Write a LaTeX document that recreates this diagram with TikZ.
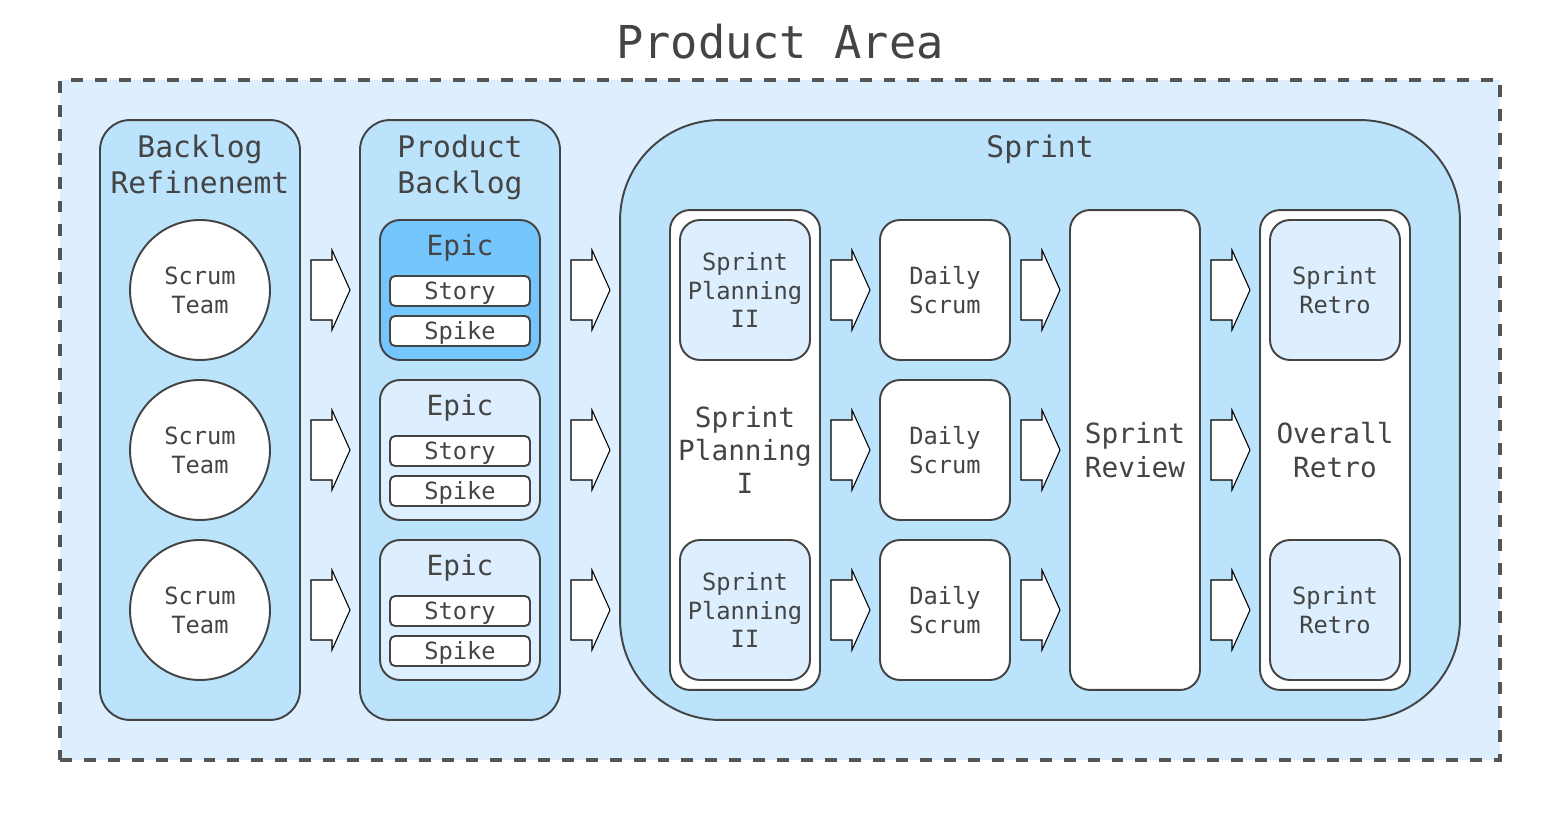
\documentclass[tikz,border=0pt]{standalone}
\usepackage{fontspec}
\setmainfont{DejaVu Sans Mono}
\usetikzlibrary{positioning}
\definecolor{areablue}{HTML}{DDEFFE}
\definecolor{colblue}{HTML}{BBE3FB}
\definecolor{epicblue}{HTML}{75C6FD}
\definecolor{inkgray}{HTML}{444444}
\definecolor{dashgray}{HTML}{555555}
\tikzset{
    flow arrow/.pic={
        \draw[line width=0.6pt, fill=white]
            (-19.5,-30) -- (1.5,-30) -- (1.5,-40) -- (19.5,0)
            -- (1.5,40) -- (1.5,30) -- (-19.5,30) -- cycle;
    }
}
\begin{document}
\begin{tikzpicture}[x=0.02cm, y=-0.02cm,
        every node/.style = {text=inkgray, inner sep=0pt, align=center},
        outline/.style = {draw=inkgray, line width=1.1pt},
        column/.style = {outline, fill=colblue, rounded corners=0.6cm,
            minimum width=4cm, minimum height=12cm},
        card/.style = {outline, rounded corners=0.4cm,
            minimum width=2.6cm, minimum height=2.8cm},
        lane/.style = {outline, fill=white, rounded corners=0.4cm,
            minimum width=3cm, minimum height=9.6cm},
        tag/.style = {outline, fill=white, rounded corners=0.1cm,
            minimum width=2.8cm, minimum height=0.6cm, font=\fontsize{13.5}{16.5}\selectfont},
        member/.style = {outline, circle, fill=white, minimum size=2.8cm,
            font=\fontsize{13.5}{16.5}\selectfont},
        smalltext/.style = {font=\fontsize{13.5}{16.5}\selectfont},
        midtext/.style = {font=\fontsize{15.8}{19}\selectfont},
        headtext/.style = {font=\fontsize{16.9}{20.5}\selectfont}
        ]
    \useasboundingbox (0,0) rectangle (1560,820);

    \node[font=\fontsize{25.8}{31}\selectfont] (title) at (780,42) {Product Area};
    \node[draw=dashgray, fill=areablue, line width=1.9pt,
        dash pattern=on 6.8pt off 6.8pt,
        minimum width=28.8cm, minimum height=13.6cm] (area) at (780,420) {};

    % backlog refinement
    \node[column] (refine) at (200,420) {};
    \node[headtext] (refinetitle) at (200,164) {Backlog\\Refinenemt};
    \node[member] (team1) at (200,290) {Scrum\\Team};
    \node[member] (team2) at (200,450) {Scrum\\Team};
    \node[member] (team3) at (200,610) {Scrum\\Team};

    % product backlog
    \node[column] (backlog) at (460,420) {};
    \node[headtext] (backlogtitle) at (460,167) {Product\\Backlog};
    \foreach \y/\c [count=\i] in {290/epicblue, 450/areablue, 610/areablue} {
        \node[card, fill=\c, minimum width=3.2cm] (epic\i) at (460,\y) {};
        \node[midtext] (epiclabel\i) at (460,\y-42) {Epic};
        \node[tag] (story\i) at (460,\y+1) {};
        \node[smalltext] (storytext\i) at (460,\y+3) {Story};
        \node[tag] (spike\i) at (460,\y+41) {};
        \node[smalltext] (spiketext\i) at (460,\y+43) {Spike};
    }

    % sprint
    \node[outline, fill=colblue, rounded corners=2cm,
        minimum width=16.8cm, minimum height=12cm] (sprint) at (1040,420) {};
    \node[headtext] (sprinttitle) at (1040,149) {Sprint};

    \node[lane] (planning) at (745,450) {};
    \node[card, fill=areablue, smalltext] (planning2a) at (745,290) {Sprint\\Planning\\II};
    \node[card, fill=areablue, smalltext] (planning2b) at (745,610) {Sprint\\Planning\\II};
    \node[midtext] (planning1) at (745,450) {Sprint\\Planning\\I};

    \node[card, fill=white, smalltext] (daily1) at (945,290) {Daily\\Scrum};
    \node[card, fill=white, smalltext] (daily2) at (945,450) {Daily\\Scrum};
    \node[card, fill=white, smalltext] (daily3) at (945,610) {Daily\\Scrum};

    \node[lane, minimum width=2.6cm, midtext] (review) at (1135,450) {Sprint\\Review};

    \node[lane] (overall) at (1335,450) {};
    \node[card, fill=areablue, smalltext] (retro1) at (1335,290) {Sprint\\Retro};
    \node[card, fill=areablue, smalltext] (retro2) at (1335,610) {Sprint\\Retro};
    \node[midtext] (overalltext) at (1335,450) {Overall\\Retro};

    % flow arrows
    \foreach \x in {330.5, 590.5, 850.5, 1040.5, 1230.5}
        \foreach \y in {290, 450, 610}
            \pic at (\x,\y) {flow arrow};
\end{tikzpicture}
\end{document}
